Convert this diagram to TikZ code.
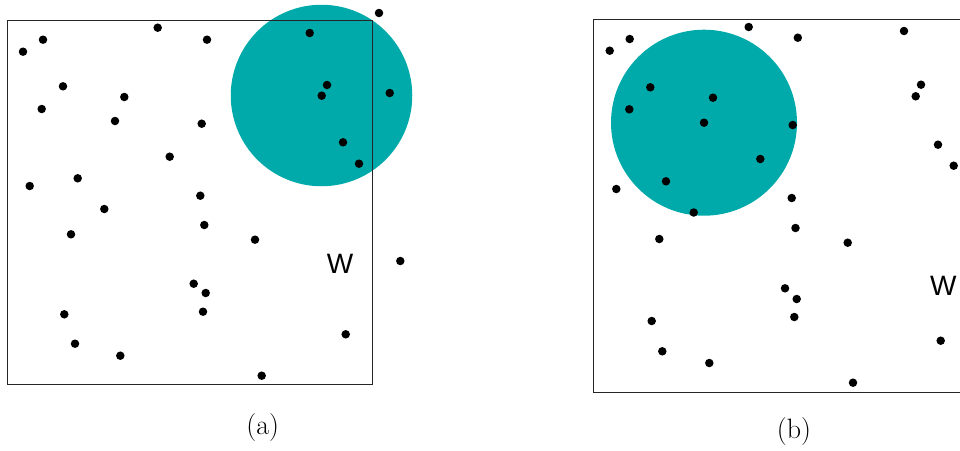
\documentclass[tikz,border=0pt]{standalone}
\usepackage{fontspec}
\newfontfamily\wfont{Liberation Sans}
\definecolor{tealfill}{RGB}{0,170,170}
\begin{document}
\begin{tikzpicture}[x=1pt,y=-1pt,
  dot/.style={circle,fill=black,inner sep=0pt,minimum size=8.5pt},
  region/.style={draw=black!85,line width=1pt},
  disk/.style={circle,fill=tealfill,inner sep=0pt},
  wlabel/.style={font=\wfont\fontsize{28}{32}\selectfont,inner sep=0pt},
  caption/.style={font=\fontsize{28}{32}\selectfont,inner sep=0pt}]
\useasboundingbox (0,0) rectangle (960,450);
\clip (0,0) rectangle (960,450);
% ---------- panel (a)
\node[disk,minimum size=181.5pt] (ca) at (321.5,95.5) {};
\draw[region] (7.5,20) rectangle (372,384);
\node[wlabel] (wa) at (340,264) {W};
\node[caption] (la) at (262.8,427.7) {(a)};
\foreach \x/\y [count=\i] in {23/51.7, 43/39.7, 157.7/27.7, 207/39.7, 63/86.3, 124.3/97,
  41.7/109, 115/121, 201.7/123.7, 169.7/156.7, 29.7/186, 77.7/178.3, 200.3/195.7,
  379/13, 309.7/33, 327/85, 321.7/95.7, 389.7/93, 343/142.3, 359/163.7,
  104.3/209, 204.3/225, 71/234.3, 193.7/283.7, 205.7/293, 203/311.7, 64.3/314.3,
  75/343.7, 120.3/355.7, 255/239.7, 400.3/261, 345.7/334.3, 261.7/375.7}
  \node[dot] (a\i) at (\x,\y) {};
% ---------- panel (b)
\node[disk,minimum size=186pt] (cb) at (704,122.7) {};
\draw[region] (593.7,19) rectangle (967,392);
\node[wlabel] (wb) at (943.3,286) {W};
\node[caption] (lb) at (794,432) {(b)};
\foreach \x/\y [count=\i] in {609.7/50.7, 629.7/39, 748.7/27, 797.8/37.7, 650.3/87.3, 713/97.7,
  629.3/109.3, 704/122.7, 792.7/125, 760.3/159, 616.3/189, 666/181.3, 791.7/198,
  693.7/212.5, 795.5/228, 904/31, 921/84.7, 915.7/96.3, 938/144.7, 953.7/165.7,
  659.3/239, 785/288.3, 796.7/299, 794.3/317, 651.7/321, 662.3/351.3, 709.3/363,
  847.7/242.7, 940.7/340.7, 853/382.7}
  \node[dot] (b\i) at (\x,\y) {};
\end{tikzpicture}
\end{document}
